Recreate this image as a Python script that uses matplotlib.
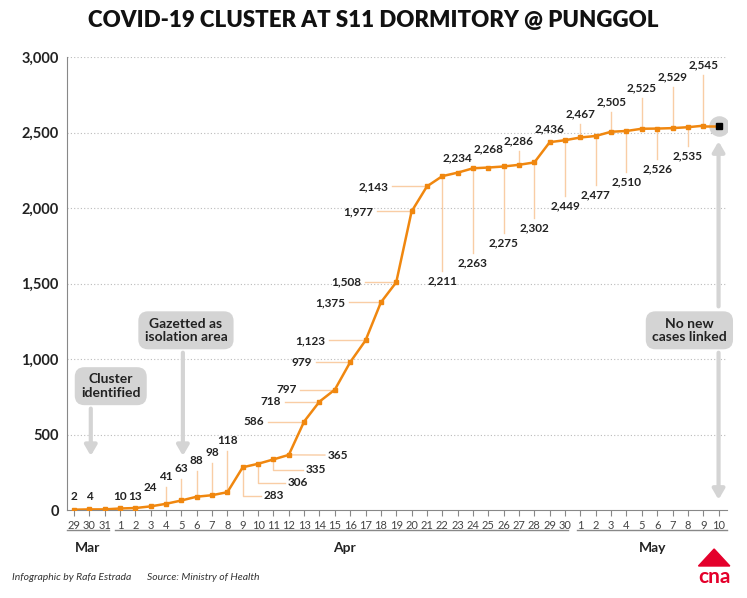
import matplotlib
matplotlib.use("Agg")
import matplotlib.pyplot as plt
from matplotlib.patches import Polygon
import matplotlib.transforms as mtrans

plt.rcParams['font.family'] = ['Lato', 'DejaVu Sans']

days = ["29", "30", "31"] + [str(d) for d in range(1, 31)] + [str(d) for d in range(1, 11)]
cases = [2, 4, 4, 10, 13, 24, 41, 63, 88, 98, 118, 283, 306, 335, 365, 586, 718, 797, 979,
         1123, 1375, 1508, 1977, 2143, 2211, 2234, 2263, 2268, 2275, 2286, 2302, 2436, 2449,
         2467, 2477, 2505, 2510, 2525, 2526, 2529, 2535, 2545, 2545]
months = ["Mar", "Apr", "May"]

# label layout: (kind, a, b)
layout = [("top", 90, 0), ("top", 90, 0), None, ("top", 90, 0), ("top", 90, 0),
          ("top", 146, 0), ("top", 219, 0), ("top", 272, 0), ("top", 325, 0), ("top", 378, 0), ("top", 457, 0),
          ("right", 93, 1.35), ("right", 179, 1.9), ("right", 265, 2.1), ("right", 364, 2.5),
          ("left", 586, 2.6), ("left", 718, 2.5), ("left", 797, 2.5), ("left", 979, 2.5), ("left", 1123, 2.6),
          ("left", 1375, 2.3), ("left", 1508, 2.3), ("left", 1977, 2.5), ("left", 2143, 2.5),
          ("top", 1517, 0), ("top", 2331, 0), ("top", 1636, 0), ("top", 2391, 0), ("top", 1768, 0),
          ("top", 2444, 0), ("top", 1868, 0), ("top", 2523, 0), ("top", 2013, 0), ("top", 2623, 0),
          ("top", 2086, 0), ("top", 2702, 0), ("top", 2172, 0), ("top", 2795, 0), ("top", 2258, 0),
          ("top", 2868, 0), ("top", 2344, 0), ("top", 2947, 0), None]

ORANGE = "#F0870F"
LEAD = "#F9CDA5"
GREY = "#D4D4D4"
FS = 8.5

fig = plt.figure(figsize=(7.47, 5.98), dpi=100)
ax = fig.add_axes([67/747, 1-510/598, 660/747, 453/598])
x = list(range(len(cases)))
ax.set_xlim(-0.45, 42.55)
ax.set_ylim(0, 3000)

for i, (v, lay) in enumerate(zip(cases, layout)):
    if lay is None:
        continue
    kind, a, b = lay
    lab = f"{v:,}"
    if kind == "top":
        if a > v and a - v > 130:
            ax.plot([i, i], [v, a - 65], color=LEAD, lw=1, zorder=1)
        elif a < v:
            ax.plot([i, i], [v, a + 65], color=LEAD, lw=1, zorder=1)
        ax.text(i, a, lab, ha="center", va="center", fontsize=FS, fontweight="bold", color="#222")
    elif kind == "right":
        if abs(a - v) > 20:
            ax.plot([i, i, i + b - 0.15], [v, a, a], color=LEAD, lw=1, zorder=1)
        else:
            ax.plot([i, i + b - 0.15], [v, a], color=LEAD, lw=1, zorder=1)
        ax.text(i + b, a, lab, ha="left", va="center", fontsize=FS, fontweight="bold", color="#222")
    else:
        ax.plot([i - b + 0.25, i], [a, a], color=LEAD, lw=1, zorder=1)
        ax.text(i - b, a, lab, ha="right", va="center", fontsize=FS, fontweight="bold", color="#222")

ax.scatter([x[-1]], [cases[-1]], s=190, color=GREY, zorder=2)
ax.plot(x[:-1], cases[:-1], color=ORANGE, lw=1.8, marker="s", ms=3.5, zorder=3)
ax.plot(x[-2:], cases[-2:], color=ORANGE, lw=1.8, zorder=3)
ax.plot([x[-1]], [cases[-1]], marker="s", ms=4, color="black", zorder=4)

def box(xc, yc, text):
    ax.text(xc, yc, text, ha="center", va="center", fontsize=10, fontweight="bold", color="#222",
            linespacing=1.15,
            bbox=dict(boxstyle="round,pad=0.45,rounding_size=0.7", fc=GREY, ec="none"), zorder=5)

arrow = dict(arrowstyle="-|>,head_width=0.35,head_length=0.6", color=GREY, lw=3)
box(2.4, 820, "Cluster\nidentified")
ax.annotate("", xy=(1.1, 340), xytext=(1.1, 690), arrowprops=arrow, zorder=4)
box(7.3, 1190, "Gazetted as\nisolation area")
ax.annotate("", xy=(7.1, 340), xytext=(7.1, 1060), arrowprops=arrow, zorder=4)
box(40.1, 1190, "No new\ncases linked")
ax.annotate("", xy=(42, 2460), xytext=(42, 1330), arrowprops=arrow, zorder=4)
ax.annotate("", xy=(42, 50), xytext=(42, 1060), arrowprops=arrow, zorder=4)

ax.set_yticks(range(0, 3001, 500))
ax.set_yticklabels([f"{t:,}" for t in range(0, 3001, 500)], fontsize=10.5, fontweight="bold", color="#222")
for t in range(500, 3001, 500):
    ax.axhline(t, color="#BBBBBB", lw=0.8, ls=(0, (1, 2)), zorder=0)
ax.set_xticks(x)
ax.set_xticklabels(days, fontsize=8, color="#444")
ax.tick_params(axis="x", length=4, color="#888", pad=3)
ax.tick_params(axis="y", length=0, pad=6)
for s in ["top", "right"]:
    ax.spines[s].set_visible(False)
ax.spines["left"].set_color("#888")
ax.spines["bottom"].set_color("#888")

tr = mtrans.blended_transform_factory(ax.transData, fig.transFigure)
spans = [(-0.45, 2.3), (2.7, 32.2), (32.8, 42.55)]
centers = [0.9, 17.6, 37.7]
for (s0, s1), c, m in zip(spans, centers, months):
    ax.plot([s0, s1], [1-530/598]*2, transform=tr, color="#888", lw=1, clip_on=False)
    ax.text(c, 1-548/598, m, transform=tr, ha="center", va="center", fontsize=10, fontweight="bold", color="#222")

fig.text(0.5, 1-20/598, "COVID-19 CLUSTER AT S11 DORMITORY @ PUNGGOL", ha="center", va="center",
         fontsize=16, fontweight="heavy", color="#111")
fig.text(12/747, 1-578/598, "Infographic by Rafa Estrada", fontsize=7.5, style="italic", color="#333", va="center")
fig.text(147/747, 1-578/598, "Source: Ministry of Health", fontsize=7.5, style="italic", color="#333", va="center")
fig.patches.append(Polygon([[0.935, 1-566/598], [0.956, 1-549/598], [0.977, 1-566/598]],
                           closed=True, transform=fig.transFigure, color="#E4002B"))
fig.text(0.956, 1-577/598, "cna", ha="center", va="center", fontsize=15, fontweight="bold", color="#E4002B")

fig.savefig("out.png", dpi=100)
